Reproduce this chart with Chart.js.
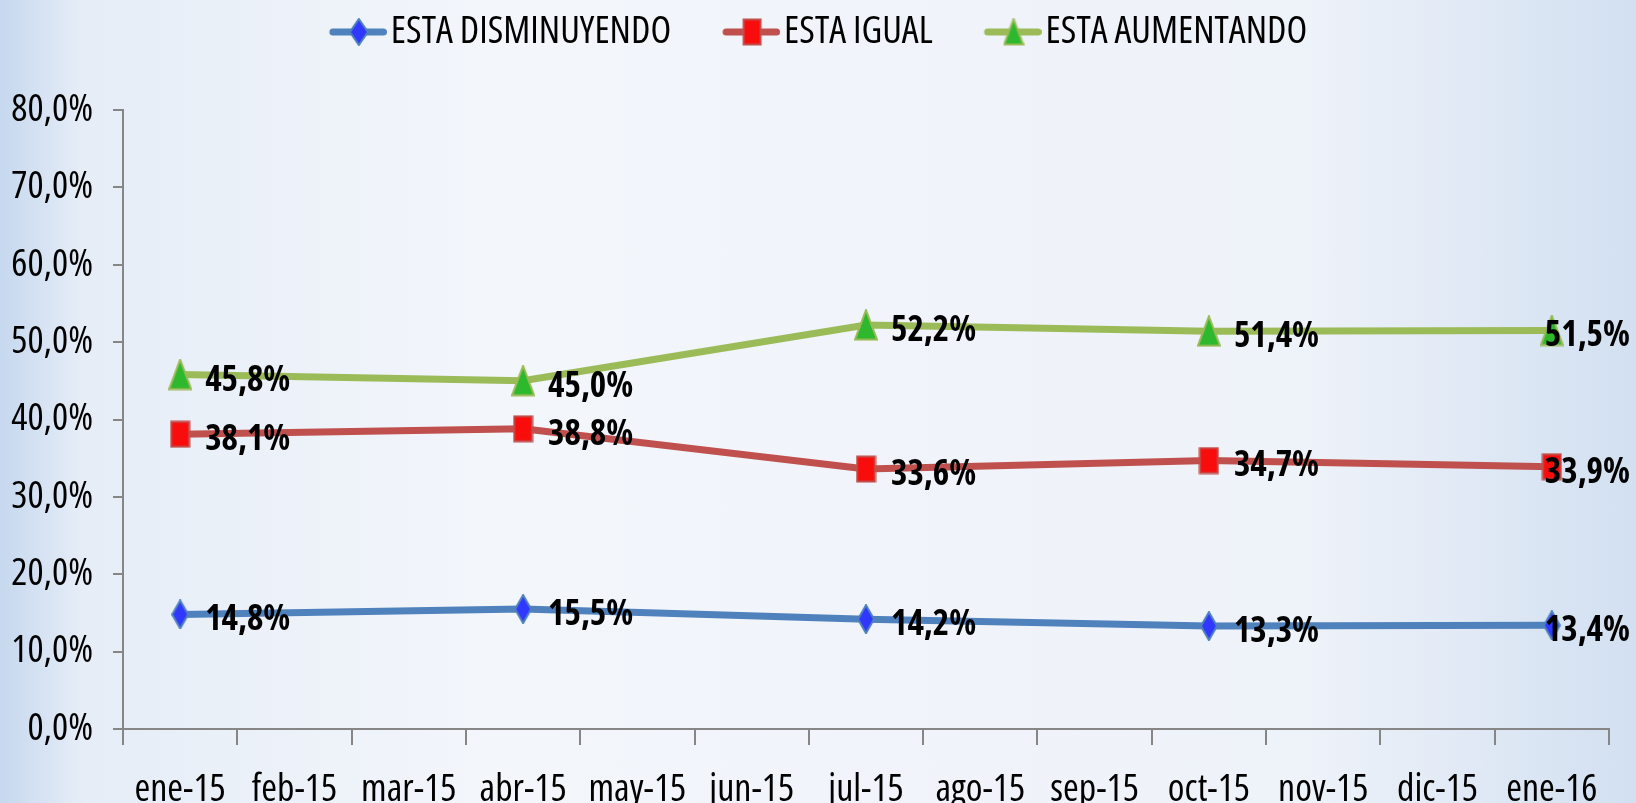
<!DOCTYPE html>
<html lang="es">
<head>
    <meta charset="UTF-8">
    <title>Percepción</title>
    <style>
        html, body { margin: 0; padding: 0; }
        body {
            width: 1636px; height: 803px; overflow: hidden;
            background: linear-gradient(to right, #c6d8ee 0%, #e6edf7 5%, #f3f6fb 30%, #eef2f9 80%, #d2e0f1 100%);
        }
        #chart { display: block; }
    </style>
</head>
<body>
    <canvas id="chart" width="1636" height="803"></canvas>
    <script src="https://cdn.jsdelivr.net/npm/chart.js"></script>
    <script>
        // meses del eje X
        const meses = ['ene-15', 'feb-15', 'mar-15', 'abr-15', 'may-15', 'jun-15', 'jul-15',
                       'ago-15', 'sep-15', 'oct-15', 'nov-15', 'dic-15', 'ene-16'];
        // series (solo hay medición trimestral)
        const disminuyendo = [14.8, null, null, 15.5, null, null, 14.2, null, null, 13.3, null, null, 13.4];
        const igual        = [38.1, null, null, 38.8, null, null, 33.6, null, null, 34.7, null, null, 33.9];
        const aumentando   = [45.8, null, null, 45.0, null, null, 52.2, null, null, 51.4, null, null, 51.5];
        const nombres = ['ESTA DISMINUYENDO', 'ESTA IGUAL', 'ESTA AUMENTANDO'];
        // eje Y
        const yMin = 0, yMax = 80, yPaso = 10;

        // Open Sans en su ancho condensado (el peso lleva el "condensed" para que entre en la cadena de fuente)
        const fuente = '"Open Sans", "DejaVu Sans Condensed", sans-serif';
        const fmt = v => v.toFixed(1).replace('.', ',') + '%';

        // marcadores dibujados en canvas pequeños
        function marcador(forma, relleno, borde, w, h) {
            const c = document.createElement('canvas');
            c.width = w; c.height = h;
            const g = c.getContext('2d');
            g.beginPath();
            if (forma === 'rombo') {
                g.moveTo(w / 2, 1); g.lineTo(w - 1, h / 2); g.lineTo(w / 2, h - 1); g.lineTo(1, h / 2);
            } else if (forma === 'cuadro') {
                g.rect(1.5, 1.5, w - 3, h - 3);
            } else {
                g.moveTo(w / 2, 1); g.lineTo(w - 1, h - 1.5); g.lineTo(1, h - 1.5);
            }
            g.closePath();
            g.fillStyle = relleno; g.fill();
            g.lineWidth = 2; g.strokeStyle = borde; g.stroke();
            return c;
        }
        // icono de leyenda: linea + marcador (parte izquierda transparente para separar items)
        function iconoLeyenda(color, mk) {
            const c = document.createElement('canvas');
            c.width = 116; c.height = 40;
            const g = c.getContext('2d');
            g.strokeStyle = color; g.lineWidth = 7; g.lineCap = 'round';
            g.beginPath(); g.moveTo(62, 20); g.lineTo(112.5, 20); g.stroke();
            g.drawImage(mk, 88 - mk.width / 2, 20 - mk.height / 2);
            return c;
        }

        const colores = ['#4f81bd', '#c0504d', '#9bbb59'];
        const puntos = [
            marcador('rombo', '#3038ff', '#4f81bd', 18, 30),
            marcador('cuadro', '#f80c0c', '#c0504d', 21, 28),
            marcador('triangulo', '#2db82d', '#9bbb59', 24, 32)
        ];
        const iconos = [
            iconoLeyenda(colores[0], marcador('rombo', '#3038ff', '#4f81bd', 20, 28)),
            iconoLeyenda(colores[1], marcador('cuadro', '#f80c0c', '#c0504d', 20, 28)),
            iconoLeyenda(colores[2], marcador('triangulo', '#2db82d', '#9bbb59', 21, 28))
        ];

        // etiquetas de datos a la derecha de cada punto
        const etiquetas = {
            id: 'etiquetas',
            afterDatasetsDraw(chart) {
                const ctx = chart.ctx;
                ctx.save();
                ctx.font = 'bold condensed 35px ' + fuente;
                ctx.fillStyle = '#000';
                ctx.textBaseline = 'middle';
                chart.data.datasets.forEach((ds, i) => {
                    chart.getDatasetMeta(i).data.forEach((pt, j) => {
                        const v = ds.data[j];
                        if (v === null) return;
                        const txt = fmt(v);
                        const w = ctx.measureText(txt).width;
                        let x = pt.x + 25;
                        if (x + w > chart.width - 6) x = chart.width - 6 - w;
                        ctx.fillText(txt, x, pt.y + 6);
                    });
                });
                ctx.restore();
            }
        };
        // altura fija de la leyenda y un pequeño corrimiento a la izquierda
        const ajusteLeyenda = {
            id: 'ajusteLeyenda',
            beforeLayout(chart) {
                const lg = chart.legend;
                if (lg && !lg._fijo) {
                    const fit = lg.fit;
                    lg.fit = function () { fit.call(this); this.height = 105; };
                    lg._fijo = true;
                }
            },
            afterLayout(chart) {
                chart.legend.left -= 8;
                chart.legend.right -= 8;
            }
        };

        const series = [disminuyendo, igual, aumentando];
        new Chart(document.getElementById('chart'), {
            type: 'line',
            data: {
                labels: meses,
                datasets: series.map((d, i) => ({
                    label: nombres[i],
                    data: d,
                    borderColor: colores[i],
                    backgroundColor: colores[i],
                    borderWidth: 7,
                    tension: 0,
                    spanGaps: true,
                    pointStyle: puntos[i],
                    pointRadius: 12
                }))
            },
            options: {
                responsive: false,
                animation: false,
                devicePixelRatio: 1,
                layout: { padding: { top: 5, right: 27, left: 0, bottom: 0 } },
                plugins: {
                    tooltip: { enabled: false },
                    legend: {
                        position: 'top',
                        labels: {
                            usePointStyle: true,
                            pointStyleWidth: 86,
                            padding: 8,
                            color: '#000',
                            font: { family: fuente, size: 38, weight: 'condensed' },
                            generateLabels(chart) {
                                const items = Chart.defaults.plugins.legend.labels.generateLabels(chart);
                                items.forEach((it, i) => { it.pointStyle = iconos[i]; });
                                return items;
                            }
                        }
                    }
                },
                scales: {
                    x: {
                        offset: true,
                        grid: { offset: true, drawOnChartArea: false, tickLength: 16, color: '#868686', lineWidth: 2 },
                        border: { color: '#868686', width: 2 },
                        ticks: { color: '#000', padding: 22, maxRotation: 0, autoSkip: false,
                                 font: { family: fuente, size: 38, weight: 'condensed' } },
                        afterFit: s => { s.height = 74; }
                    },
                    y: {
                        min: yMin, max: yMax,
                        grid: { drawOnChartArea: false, tickLength: 10, color: '#868686', lineWidth: 2 },
                        border: { color: '#868686', width: 2 },
                        ticks: { stepSize: yPaso, color: '#000', padding: 20,
                                 font: { family: fuente, size: 38, weight: 'condensed' }, callback: v => fmt(v) },
                        afterFit: s => { s.width = 123; }
                    }
                }
            },
            plugins: [etiquetas, ajusteLeyenda]
        });
    </script>
</body>
</html>
